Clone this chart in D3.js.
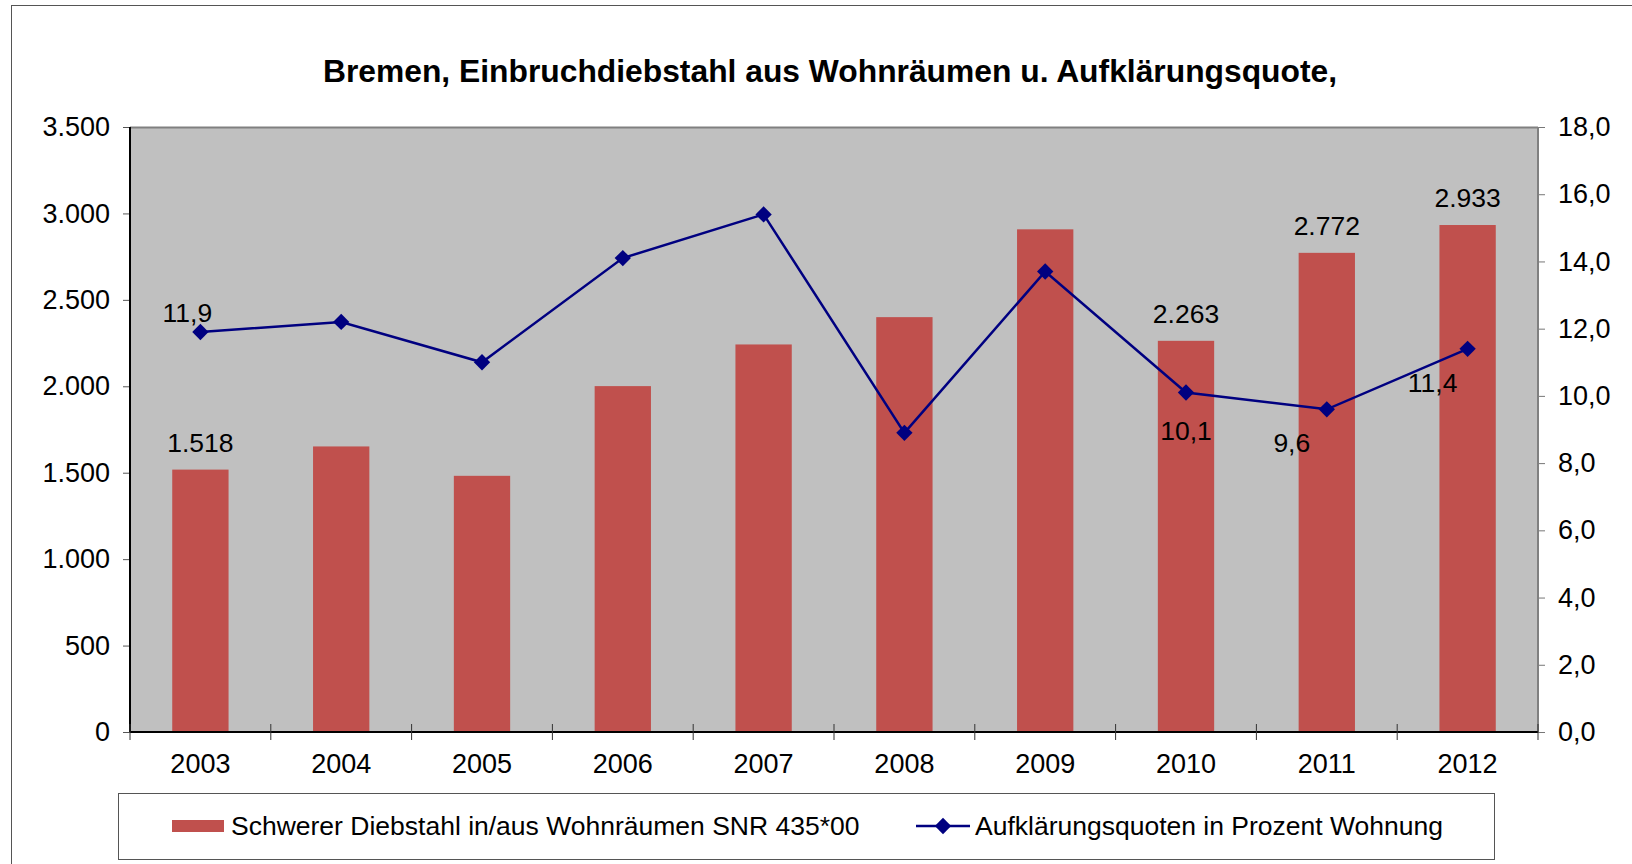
<!DOCTYPE html>
<html>
<head>
<meta charset="utf-8">
<script src="https://cdn.jsdelivr.net/npm/d3@7"></script>
<style>
	body { margin: 0; background: #fff; }
	svg { display: block; font-family: "Liberation Sans", Arial, sans-serif; }
</style>
</head>
<body>
<div class="chart"></div>
<script>
var years = ["2003", "2004", "2005", "2006", "2007", "2008", "2009", "2010", "2011", "2012"];
var thefts = [1518, 1652, 1482, 2001, 2242, 2400, 2908, 2263, 2772, 2933];
var rates = [11.9, 12.2, 11.0, 14.1, 15.4, 8.9, 13.7, 10.1, 9.6, 11.4];

// which points carry a data label, and where
var bar_labels = ["2003", "2010", "2011", "2012"];
var rate_labels = [
	{year: "2003", pos: "aboveLeft"},
	{year: "2010", pos: "below"},
	{year: "2011", pos: "belowLeft"},
	{year: "2012", pos: "belowLeft"}
];

var left_ticks = [0, 500, 1000, 1500, 2000, 2500, 3000, 3500];
var right_ticks = [0, 2, 4, 6, 8, 10, 12, 14, 16, 18];

var title = "Bremen, Einbruchdiebstahl aus Wohnräumen u. Aufklärungsquote,";
var series_names = ["Schwerer Diebstahl in/aus Wohnräumen SNR 435*00", "Aufklärungsquoten in Prozent Wohnung"];

var colors = {
	plot: "#c0c0c0",
	bar: "#c0504d",
	line: "#000080",
	frame: "#808080"
}

var de = d3.formatLocale({decimal: ",", thousands: ".", grouping: [3], currency: ["", "€"]});
var fmtInt = de.format(",d");
var fmtOne = de.format(",.1f");

var W = 1632, H = 864;
var margin = {left: 130, right: 94, top: 127, bottom: 132};
var width = W - margin.left - margin.right;
var height = H - margin.top - margin.bottom;

var svg = d3.select(".chart").append("svg")
	.attr("width", W)
	.attr("height", H);

// outer chart border
svg.append("rect")
	.attr("x", 11.5).attr("y", 5.5)
	.attr("width", W).attr("height", H)
	.style("fill", "none")
	.style("stroke", "#555")
	.style("stroke-width", 1);

svg.append("text")
	.attr("x", 830)
	.attr("y", 82)
	.attr("text-anchor", "middle")
	.style("font-size", "31.8px")
	.style("font-weight", "bold")
	.text(title);

var g = svg.append("g")
	.attr("transform", "translate(" + margin.left + ", " + margin.top + ")");

var x = d3.scaleBand()
	.domain(years)
	.range([0, width]);

var y = d3.scaleLinear()
	.domain([0, 3500])
	.range([height, 0]);

var y2 = d3.scaleLinear()
	.domain([0, 18])
	.range([height, 0]);

g.append("rect")
	.attr("width", width)
	.attr("height", height)
	.style("fill", colors.plot);

// top frame line
g.append("line")
	.attr("x1", 0).attr("x2", width)
	.attr("y1", 0.5).attr("y2", 0.5)
	.style("stroke", colors.frame).style("stroke-width", 2);

// bars
var bw = x.bandwidth() * 0.4;
g.selectAll(".bar")
	.data(years)
	.enter().append("rect")
		.attr("class", "bar")
		.attr("x", function(d){ return x(d) + (x.bandwidth() - bw) / 2; })
		.attr("y", function(d, i){ return y(thefts[i]); })
		.attr("width", bw)
		.attr("height", function(d, i){ return height - y(thefts[i]); })
		.style("fill", colors.bar);

// axes
var leftAxis = d3.axisLeft(y).tickValues(left_ticks).tickSize(7).tickPadding(13).tickFormat(fmtInt);
var la = g.append("g").call(leftAxis);
la.select(".domain").remove();
la.selectAll("line").attr("stroke", "#555");
la.append("line").attr("x1", 0).attr("x2", 0).attr("y1", 0).attr("y2", height)
	.attr("stroke", "#000").attr("stroke-width", 2);

var rightAxis = d3.axisRight(y2).tickValues(right_ticks).tickSize(7).tickPadding(13).tickFormat(fmtOne);
var ra = g.append("g").attr("transform", "translate(" + width + ", 0)").call(rightAxis);
ra.select(".domain").remove();
ra.selectAll("line").attr("stroke", "#777");
ra.append("line").attr("x1", 0).attr("x2", 0).attr("y1", 0).attr("y2", height)
	.attr("stroke", colors.frame).attr("stroke-width", 2);

var bottomAxis = d3.axisBottom(x).tickSize(0).tickPadding(22);
var ba = g.append("g").attr("transform", "translate(0, " + height + ")").call(bottomAxis);
ba.select(".domain").remove();
ba.append("line").attr("x1", 0).attr("x2", width).attr("y1", 0).attr("y2", 0)
	.attr("stroke", "#000").attr("stroke-width", 2);
ba.selectAll(".sep")
	.data(d3.range(years.length + 1))
	.enter().append("line")
		.attr("class", "sep")
		.attr("x1", function(i){ return i * x.step(); })
		.attr("x2", function(i){ return i * x.step(); })
		.attr("y1", -8).attr("y2", 8)
		.attr("stroke", "#333");

svg.selectAll(".tick text")
	.style("font-size", "27px")
	.style("fill", "#000");

// line series
var cx = function(d){ return x(d) + x.bandwidth() / 2; };
var line = d3.line()
	.x(function(d, i){ return cx(years[i]); })
	.y(function(d){ return y2(d); });

g.append("path")
	.datum(rates)
	.attr("d", line)
	.style("fill", "none")
	.style("stroke", colors.line)
	.style("stroke-width", 2.5);

var diamond = d3.symbol().type(d3.symbolDiamond2).size(170);
g.selectAll(".marker")
	.data(rates)
	.enter().append("path")
		.attr("class", "marker")
		.attr("d", diamond)
		.attr("transform", function(d, i){ return "translate(" + cx(years[i]) + ", " + y2(d) + ")"; })
		.style("fill", colors.line);

// data labels
g.selectAll(".bar-label")
	.data(bar_labels)
	.enter().append("text")
		.attr("class", "bar-label")
		.attr("x", cx)
		.attr("y", function(d){ return y(thefts[years.indexOf(d)]) - 18; })
		.attr("text-anchor", "middle")
		.style("font-size", "26.5px")
		.text(function(d){ return fmtInt(thefts[years.indexOf(d)]); });

var offsets = {
	aboveLeft: [-13, -10],
	below: [0, 47],
	belowLeft: [-35, 43]
};

g.selectAll(".rate-label")
	.data(rate_labels)
	.enter().append("text")
		.attr("class", "rate-label")
		.attr("x", function(d){ return cx(d.year) + offsets[d.pos][0]; })
		.attr("y", function(d){ return y2(rates[years.indexOf(d.year)]) + offsets[d.pos][1]; })
		.attr("text-anchor", "middle")
		.style("font-size", "26.5px")
		.text(function(d){ return fmtOne(rates[years.indexOf(d.year)]); });

// legend
var lg = svg.append("g");
lg.append("rect")
	.attr("x", 118.5).attr("y", 793.5)
	.attr("width", 1376).attr("height", 66)
	.style("fill", "#fff")
	.style("stroke", "#555");

lg.append("rect")
	.attr("x", 172).attr("y", 820)
	.attr("width", 52).attr("height", 12)
	.style("fill", colors.bar);
lg.append("text")
	.attr("x", 231).attr("y", 835)
	.style("font-size", "26.5px")
	.text(series_names[0]);

lg.append("line")
	.attr("x1", 916).attr("x2", 970)
	.attr("y1", 826).attr("y2", 826)
	.style("stroke", colors.line)
	.style("stroke-width", 2.5);
lg.append("path")
	.attr("d", diamond)
	.attr("transform", "translate(943, 826)")
	.style("fill", colors.line);
lg.append("text")
	.attr("x", 975).attr("y", 835)
	.style("font-size", "26.5px")
	.text(series_names[1]);
</script>
</body>
</html>
